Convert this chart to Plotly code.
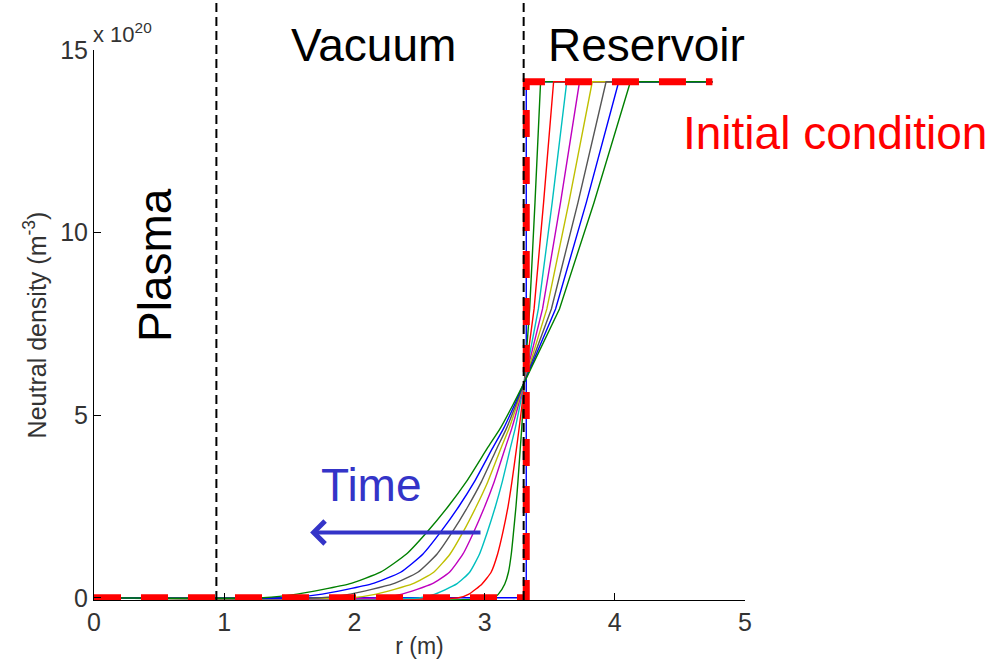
import plotly.graph_objects as go

# ---------------- data ----------------
# r positions (m) of the boundary between vacuum and reservoir, plasma edge
r_plasma_edge = 0.94
r_reservoir = 3.30
r_step = 3.32
r_max = 4.75
n_reservoir = 14.13           # x 1e20 m^-3

# lower (vacuum) side: density levels and r of each time curve at those levels
n_low = [0.0, 0.1, 0.38, 0.7, 1.2, 1.79, 2.5, 3.18, 4.09, 4.64, 5.3, 5.9]
# upper (reservoir) side density levels (starting at the common crossing point)
n_up = [5.9, 7.91, 10.82, 14.13]

curve_colors = ["#008000", "#FF0000", "#00BFBF", "#BF00BF", "#BFBF00", "#555555", "#0000FF", "#008000"]

r_low = [
    [3.073, 3.106, 3.155, 3.183, 3.205, 3.222, 3.241, 3.256, 3.274, 3.285, 3.296, 3.305],
    [2.800, 2.880, 2.980, 3.050, 3.100, 3.140, 3.180, 3.210, 3.245, 3.265, 3.288, 3.305],
    [2.505, 2.619, 2.786, 2.885, 2.961, 3.020, 3.083, 3.136, 3.197, 3.235, 3.273, 3.305],
    [2.210, 2.366, 2.595, 2.730, 2.834, 2.915, 3.001, 3.074, 3.157, 3.209, 3.261, 3.305],
    [1.979, 2.168, 2.445, 2.609, 2.735, 2.833, 2.936, 3.025, 3.125, 3.188, 3.251, 3.305],
    [1.747, 1.969, 2.295, 2.487, 2.635, 2.750, 2.872, 2.976, 3.094, 3.168, 3.242, 3.305],
    [1.495, 1.753, 2.131, 2.355, 2.527, 2.660, 2.802, 2.922, 3.060, 3.146, 3.232, 3.305],
    [1.300, 1.560, 1.960, 2.200, 2.400, 2.555, 2.720, 2.860, 3.020, 3.120, 3.220, 3.305],
]
r_up = [
    [3.305, 3.346, 3.387, 3.430],
    [3.305, 3.380, 3.453, 3.530],
    [3.305, 3.413, 3.519, 3.631],
    [3.305, 3.445, 3.583, 3.729],
    [3.305, 3.478, 3.647, 3.827],
    [3.305, 3.513, 3.717, 3.933],
    [3.305, 3.545, 3.781, 4.030],
    [3.305, 3.575, 3.840, 4.120],
]

# initial step (blue) and initial condition (red dashed)
r_init = [0.0, r_step, r_step, r_max]
n_init = [0.0, 0.0, n_reservoir, n_reservoir]

# time arrow
arrow_tail_r, arrow_head_r, arrow_n = 2.98, 1.66, 1.79

x_ticks = [0, 1, 2, 3, 4, 5]
y_ticks = [0, 5, 10, 15]

# ---------------- figure ----------------
fig = go.Figure()

fig.add_trace(go.Scatter(x=r_init, y=n_init, mode="lines",
                         line=dict(color="#0000FF", width=1.4), showlegend=False))

for col, rl, ru in zip(curve_colors, r_low, r_up):
    # vacuum side (smooth tail)
    fig.add_trace(go.Scatter(x=[0.0] + rl, y=[0.0] + n_low, mode="lines", line_shape="spline",
                             line=dict(color=col, width=1.4, smoothing=0.5), showlegend=False))
    # reservoir side (nearly straight up to the reservoir level)
    fig.add_trace(go.Scatter(x=ru + [r_max], y=n_up + [n_reservoir], mode="lines",
                             line=dict(color=col, width=1.4), showlegend=False))

fig.add_trace(go.Scatter(x=r_init, y=n_init, mode="lines",
                         line=dict(color="#FF0000", width=7, dash="27px,20px"),
                         showlegend=False))

for xr in [r_plasma_edge, r_reservoir]:
    fig.add_shape(type="line", xref="x", yref="paper", x0=xr, x1=xr, y0=0, y1=1.095,
                  line=dict(color="black", width=2, dash="9px,5px"), layer="above")

big = dict(family="Liberation Sans, Arial, sans-serif", size=46)
fig.add_annotation(text="Vacuum", xref="paper", yref="paper", x=0.430, y=1.009,
                   showarrow=False, font=dict(big, color="black"), xanchor="center", yanchor="middle")
fig.add_annotation(text="Reservoir", xref="paper", yref="paper", x=0.849, y=1.009,
                   showarrow=False, font=dict(big, color="black"), xanchor="center", yanchor="middle")
fig.add_annotation(text="Initial condition", xref="paper", yref="paper", x=1.138, y=0.849,
                   showarrow=False, font=dict(big, color="#FF0000"), xanchor="center", yanchor="middle")
fig.add_annotation(text="Plasma", xref="paper", yref="paper", x=0.0937, y=0.609, textangle=-90,
                   showarrow=False, font=dict(big, color="black"), xanchor="center", yanchor="middle")
fig.add_annotation(text="Time", xref="paper", yref="paper", x=0.427, y=0.209,
                   showarrow=False, font=dict(big, color="#3434C8"), xanchor="center", yanchor="middle")
fig.add_annotation(x=arrow_head_r, y=arrow_n, ax=arrow_tail_r, ay=arrow_n,
                   xref="x", yref="y", axref="x", ayref="y", text="",
                   showarrow=True, arrowhead=4, arrowsize=1.1, arrowwidth=4, arrowcolor="#3434C8")

small_font = "Liberation Sans, Arial, sans-serif"
fig.add_annotation(text="x 10<sup>20</sup>", xref="paper", yref="paper", x=-0.004, y=1.03,
                   showarrow=False, font=dict(family=small_font, size=22, color="#333333"),
                   xanchor="left", yanchor="middle")

fig.update_layout(
    width=996, height=668,
    margin=dict(l=94, r=251, t=50, b=68),
    paper_bgcolor="white", plot_bgcolor="white",
    xaxis=dict(range=[0, 5], tickvals=x_ticks, ticks="inside", ticklen=7, tickcolor="black",
               showline=True, linecolor="black", linewidth=1, showgrid=False, zeroline=False,
               tickfont=dict(family=small_font, size=25, color="#333333"),
               title=dict(text="r (m)", font=dict(family=small_font, size=23, color="#333333"), standoff=2)),
    yaxis=dict(range=[-0.06, 15], tickvals=y_ticks, ticks="inside", ticklen=7, tickcolor="black",
               showline=True, linecolor="black", linewidth=1, showgrid=False, zeroline=False,
               tickfont=dict(family=small_font, size=25, color="#333333"),
               title=dict(text="Neutral density (m<sup>-3</sup>)",
                          font=dict(family=small_font, size=25, color="#333333"), standoff=6)),
)

fig.write_html("out.html")
